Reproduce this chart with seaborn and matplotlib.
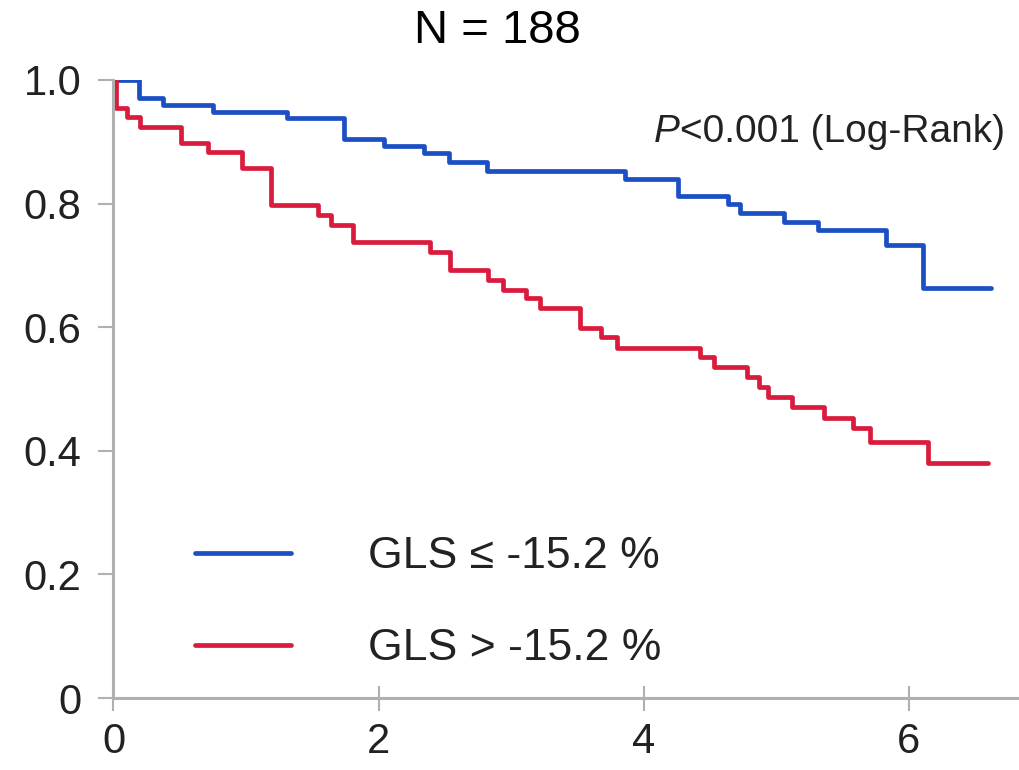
import numpy as np
import pandas as pd
import matplotlib
matplotlib.use("Agg")
import matplotlib.pyplot as plt
import seaborn as sns

# ---- data ----
blue_time = [0, 0.19, 0.37, 0.75, 1.31, 1.74, 2.04, 2.34, 2.53, 2.82, 3.86, 4.26,
             4.64, 4.73, 5.06, 5.32, 5.83, 6.11, 6.62]
blue_surv = [1.0, 0.971, 0.96, 0.948, 0.938, 0.905, 0.893, 0.882, 0.867, 0.853, 0.84,
             0.812, 0.80, 0.785, 0.77, 0.757, 0.733, 0.663, 0.663]
red_time = [0, 0.02, 0.1, 0.2, 0.51, 0.71, 0.97, 1.19, 1.54, 1.64, 1.81, 2.39, 2.54,
            2.83, 2.94, 3.11, 3.22, 3.52, 3.68, 3.80, 4.43, 4.53, 4.78, 4.87, 4.94,
            5.12, 5.36, 5.58, 5.71, 6.15, 6.60]
red_surv = [1.0, 0.955, 0.94, 0.924, 0.898, 0.884, 0.858, 0.797, 0.782, 0.765, 0.738,
            0.722, 0.693, 0.676, 0.66, 0.647, 0.631, 0.599, 0.584, 0.566, 0.552, 0.536,
            0.52, 0.503, 0.487, 0.471, 0.453, 0.437, 0.414, 0.38, 0.38]
group_labels = ["GLS \u2264 -15.2 %", "GLS > -15.2 %"]
group_colors = ["#1c4fc4", "#d91c3e"]
x_ticks = [0, 2, 4, 6]
x_tick_labels = ["0", "2", "4", "6"]
y_ticks = [0, 0.2, 0.4, 0.6, 0.8, 1.0]
y_tick_labels = ["0", "0.2", "0.4", "0.6", "0.8", "1.0"]
title_text = "N = 188"
p_text = "<0.001 (Log-Rank)"

df = pd.concat([
    pd.DataFrame({"time": blue_time, "surv": blue_surv, "group": group_labels[0]}),
    pd.DataFrame({"time": red_time, "surv": red_surv, "group": group_labels[1]}),
], ignore_index=True)

sns.set_style("white")
plt.rcParams['font.family'] = ['Liberation Sans', 'DejaVu Sans']

W, H = 1020, 770
fig = plt.figure(figsize=(W / 100, H / 100), dpi=100)
x0_px, y0_px, ytop_px = 113.5, 698, 80
ax = fig.add_axes([x0_px / W, 1 - y0_px / H, (W - x0_px) / W, (y0_px - ytop_px) / H])

sns.lineplot(data=df, x="time", y="surv", hue="group", hue_order=group_labels,
             palette=group_colors, estimator=None, drawstyle="steps-post",
             linewidth=3.4, ax=ax, legend=False)

ax.set_xlim(0, (W - x0_px) / 132.5)
ax.set_ylim(0, 1.0)
ax.set_xticks(x_ticks)
ax.set_xticklabels(x_tick_labels)
ax.set_yticks(y_ticks)
ax.set_yticklabels(y_tick_labels)
ax.set_xlabel("")
ax.set_ylabel("")

for s in ["top", "right"]:
    ax.spines[s].set_visible(False)
for s in ["left", "bottom"]:
    ax.spines[s].set_color("#b0b0b0")
    ax.spines[s].set_linewidth(2.2)

ax.tick_params(axis="y", direction="out", length=11, width=1.5, color="#b0b0b0",
               labelsize=30, pad=12, labelcolor="#222222")
ax.tick_params(axis="x", direction="inout", length=18, width=1.5, color="#b0b0b0",
               labelsize=30, pad=8, labelcolor="#222222")
ax.tick_params(axis="x", which="both", bottom=True)
ax.tick_params(axis="y", which="both", left=True)

# p-value annotation
t = ax.text(0.983, 0.916, p_text, transform=ax.transAxes, ha="right", va="center",
            fontsize=28, color="#222222")
ax.annotate("P", xy=(0, 0.5), xycoords=t, ha="right", va="center", fontsize=28,
            style="italic", color="#222222")

# legend
leg = ax.legend(handles=ax.lines[:2], labels=group_labels, loc="upper left",
                bbox_to_anchor=(0.09, 0.262), frameon=False, fontsize=32,
                handlelength=2.15, handletextpad=1.75, labelspacing=1.15,
                borderpad=0, borderaxespad=0)
for txt in leg.get_texts():
    txt.set_color("#222222")

fig.text(497 / W, 1 - 31 / H, title_text, ha="center", va="center", fontsize=34,
         family=["Liberation Sans", "DejaVu Sans"], color="black")

fig.savefig("out.png", dpi=100, facecolor="white")
